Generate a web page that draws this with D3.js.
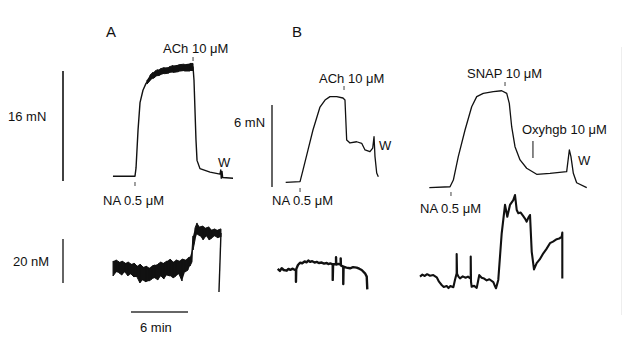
<!DOCTYPE html>
<html>
<head>
<meta charset="utf-8">
<script src="https://cdn.jsdelivr.net/npm/d3@7"></script>
<style>
body { margin: 0; background: #fff; }
text { font-family: "Liberation Sans", Arial, sans-serif; fill: #111; }
</style>
</head>
<body>
<div id="wrapper"></div>
<script>
// time in min, tension in mN, [Ca2+]i in nM
const aTension = [[0.1,2.7],[2.42,2.7],[2.53,3.9],[2.74,9.4],[2.95,13.4],[3.26,15.2],[3.58,16.2],[4.0,17.0],[4.53,17.6],[5.05,17.8],[6.42,18.3],[8.21,18.6],[8.53,18.6],[8.63,16.7],[8.84,8.0],[8.95,5.0],[9.26,3.8],[10.32,3.3],[11.37,3.0],[11.45,3.6],[11.5,2.4],[11.58,3.4],[11.65,2.5],[12.74,2.4]];
// oscillating plateau: [t, low, high]
const aTensionBand = [[3.68,16.1,16.7],[4.0,16.6,17.4],[4.3,16.9,17.8],[4.53,17.1,18.0],[4.8,17.3,18.2],[5.05,17.4,18.3],[5.5,17.6,18.5],[6.0,17.7,18.6],[6.42,17.8,18.8],[7.0,17.9,18.9],[7.6,18.0,19.0],[8.21,18.0,19.1],[8.53,18.0,19.1]];
const aCa = [[0.11,13.2,20.0],[0.42,15.0,20.5],[0.74,14.6,19.6],[1.05,13.6,20.0],[1.37,15.0,19.1],[1.68,13.2,19.6],[2.0,14.1,18.6],[2.32,12.7,19.1],[2.63,12.7,17.7],[2.95,10.0,18.6],[3.26,11.4,17.3],[3.58,10.5,17.7],[3.89,10.9,16.8],[4.21,11.8,17.7],[4.53,12.3,18.2],[4.84,11.4,18.6],[5.16,13.2,19.6],[5.47,11.8,19.1],[5.79,13.6,20.0],[6.11,13.2,20.9],[6.42,12.3,19.6],[6.74,13.2,20.5],[7.05,14.1,20.0],[7.37,10.9,20.9],[7.68,15.0,20.5],[8.0,15.9,21.4],[8.21,17.7,21.8],[8.42,19.6,25.0],[8.53,25.0,31.4],[8.74,29.6,35.0],[8.95,32.3,37.3],[9.26,31.4,35.5],[9.58,29.6,35.9],[9.89,31.4,35.0],[10.21,29.6,35.5],[10.53,30.5,34.1],[10.84,31.4,34.6],[11.16,30.5,34.1],[11.47,30.9,34.6]];
const aCaEnd = [[11.47,32.7],[11.26,5.9]];

const bTension = [[0.81,1.34],[2.32,1.39],[2.63,2.24],[3.16,3.71],[3.68,5.17],[4.42,6.85],[4.95,7.36],[5.47,7.61],[6.18,7.61],[6.84,7.51],[7.05,7.36],[7.23,4.44],[7.58,4.22],[8.28,4.31],[8.81,4.2],[9.16,3.71],[9.68,3.58],[9.97,3.85],[10.11,4.68],[10.21,3.22],[10.39,2.02],[10.56,1.75]];
const bCa = [[-0.03,16.4],[0.2,15.5],[0.39,16.7],[0.6,15.9],[0.92,15.6],[1.1,16.4],[1.3,16.0],[1.55,16.5],[1.79,15.9],[1.89,15.9],[1.89,10.6],[1.92,16.3],[2.1,18.2],[2.32,19.2],[2.55,19.0],[2.8,19.8],[3.0,19.4],[3.19,20.2],[3.4,19.6],[3.6,19.9],[3.85,19.3],[4.07,19.6],[4.3,19.1],[4.6,19.3],[4.85,18.8],[5.13,19.1],[5.3,18.6],[5.5,18.9],[5.76,18.5],[5.76,11.4],[5.8,18.5],[6.11,18.6],[6.11,21.7],[6.13,18.4],[6.35,18.7],[6.6,18.3],[6.6,21.2],[6.62,18.0],[6.87,17.4],[6.87,9.5],[6.9,17.4],[7.2,17.0],[7.58,16.7],[7.9,17.2],[8.28,17.0],[8.55,16.5],[8.81,15.9],[9.16,14.4],[9.34,12.9],[9.4,7.1]];

const cTension = [[0.98,0.95],[3.16,1.02],[3.51,1.51],[4.03,3.22],[4.74,5.17],[5.44,6.87],[5.97,7.61],[6.66,7.85],[7.72,7.97],[8.6,8.04],[9.13,7.85],[9.4,7.12],[9.65,5.41],[10.0,3.95],[10.53,2.98],[11.23,2.37],[12.28,1.93],[13.68,2.0],[15.44,2.12],[15.72,3.71],[15.89,3.22],[16.14,2.0],[16.49,1.31],[17.55,0.95]];
const cCa = [[0,12.9],[0.25,13.8],[0.5,13.2],[0.75,14.0],[1.05,13.3],[1.4,13.6],[1.76,12.6],[2.0,10.6],[2.28,9.1],[2.5,8.2],[2.81,8.6],[3.0,7.7],[3.2,8.6],[3.51,8.1],[3.68,11.4],[3.86,14.4],[3.86,23.2],[3.9,14.2],[4.05,12.9],[4.21,12.1],[4.5,13.0],[4.8,12.4],[5.05,12.9],[5.26,12.2],[5.34,12.1],[5.34,22.0],[5.37,10.5],[5.44,8.3],[5.7,8.7],[5.97,7.8],[6.1,10.6],[6.24,13.6],[6.49,12.4],[6.75,12.0],[7.02,11.2],[7.3,11.7],[7.72,10.4],[7.85,9.0],[8.0,7.6],[8.12,9.5],[8.24,11.4],[8.6,32.6],[8.95,45.5],[9.19,40.1],[9.47,45.5],[9.82,47.7],[10.0,50.0],[10.18,43.2],[10.35,41.7],[10.6,42.0],[10.87,40.4],[11.05,39.3],[11.23,37.9],[11.4,39.6],[11.58,40.9],[11.76,24.2],[12.0,16.2],[12.28,19.0],[12.6,20.7],[12.98,23.5],[13.3,25.4],[13.68,28.1],[14.0,28.8],[14.39,29.9],[14.65,30.2],[14.92,31.1],[14.98,32.9],[14.98,12.1]];

// drug additions (min)
const aEvents = [["NA 0.5 μM", 2.42], ["ACh 10 μM", 8.53]];
const bEvents = [["NA 0.5 μM", 2.32], ["ACh 10 μM", 6.95]];
const cEvents = [["NA 0.5 μM", 3.26], ["SNAP 10 μM", 8.95], ["Oxyhgb 10 μM", 11.89]];

let dimensions = { width: 622, height: 344 };
const pxPerMin = 9.5;

let wrapper = d3.select("#wrapper").append("svg")
    .attr("width", dimensions.width)
    .attr("height", dimensions.height);
let container = wrapper.append("g");

const xA = d3.scaleLinear().domain([0, 13]).range([112, 112 + 13 * pxPerMin]);
const xB = d3.scaleLinear().domain([0, 11]).range([278, 278 + 11 * pxPerMin]);
const xC = d3.scaleLinear().domain([0, 18]).range([420, 420 + 18 * pxPerMin]);
const yA = d3.scaleLinear().domain([0, 18]).range([194.75, 71]);
const yB = d3.scaleLinear().domain([0, 7]).range([200.67, 104.98]);
const yCa = d3.scaleLinear().domain([0, 50]).range([305, 195]);

function trace(data, x, y, w) {
    container.append("path")
        .attr("d", d3.line().x(d => x(d[0])).y(d => y(d[1]))(data))
        .attr("fill", "none")
        .attr("stroke", "#111")
        .attr("stroke-width", w)
        .attr("stroke-linejoin", "round");
}

function band(rows, x, y) {
    container.append("path")
        .attr("d", d3.area().x(d => x(d[0])).y0(d => y(d[1])).y1(d => y(d[2]))(rows))
        .attr("fill", "#111");
    // zigzag through the envelope for the noisy look
    let zig = rows.flatMap((r, i) => i % 2 ? [[r[0], r[1]], [r[0], r[2]]] : [[r[0], r[2]], [r[0], r[1]]]);
    trace(zig, x, y, 1);
}

function label(txt, px, py, size) {
    container.append("text")
        .attr("x", px)
        .attr("y", py)
        .style("font-size", (size || 13) + "px")
        .text(txt);
}

function tick(px, y1, y2, w) {
    container.append("line")
        .attr("x1", px).attr("x2", px)
        .attr("y1", y1).attr("y2", y2)
        .attr("stroke", "#111")
        .attr("stroke-width", w || 1);
}

// panel A
band(aTensionBand, xA, yA);
trace(aTension, xA, yA, 1.4);
band(aCa, xA, yCa);
trace(aCaEnd, xA, yCa, 1.4);

// panel B and SNAP panel
trace(bTension, xB, yB, 1.3);
trace(bCa, xB, yCa, 2.4);
trace(cTension, xC, yB, 1.3);
trace(cCa, xC, yCa, 2.1);

// scale bars
tick(63, yA(2), yA(18), 1.6);
tick(272, yB(1), yB(7), 1.3);
tick(63, yCa(10), yCa(30), 1.3);
container.append("line")
    .attr("x1", xA(2)).attr("x2", xA(8))
    .attr("y1", 312).attr("y2", 312)
    .attr("stroke", "#333").attr("stroke-width", 1.3);

label("16 mN", 8, 121);
label("6 mN", 234, 127);
label("20 nM", 13, 266);
label("6 min", 140, 332);
label("A", 106, 37, 15);
label("B", 292, 37, 15);

// event markers
tick(xA(aEvents[0][1]), 182, 186, 0.8);
label(aEvents[0][0], 103, 205);
tick(xA(aEvents[1][1]), 57, 61, 0.8);
label(aEvents[1][0], 163, 53);
label("W", 218, 167);

tick(xB(bEvents[0][1]), 188, 192, 0.8);
label(bEvents[0][0], 272, 205);
tick(xB(bEvents[1][1]), 86, 90, 0.8);
label(bEvents[1][0], 319, 83);
label("W", 379, 150);

tick(xC(cEvents[0][1]), 192, 196, 0.8);
label(cEvents[0][0], 420, 213);
tick(xC(cEvents[1][1]), 82, 86, 0.8);
label(cEvents[1][0], 467, 78);
tick(xC(cEvents[2][1]), 141, 158, 1);
label(cEvents[2][0], 522, 134);
label("W", 578, 165);

// faint scan edge
container.append("line")
    .attr("x1", 621.5).attr("x2", 621.5)
    .attr("y1", 47).attr("y2", 315)
    .attr("stroke", "#eee");
</script>
</body>
</html>
